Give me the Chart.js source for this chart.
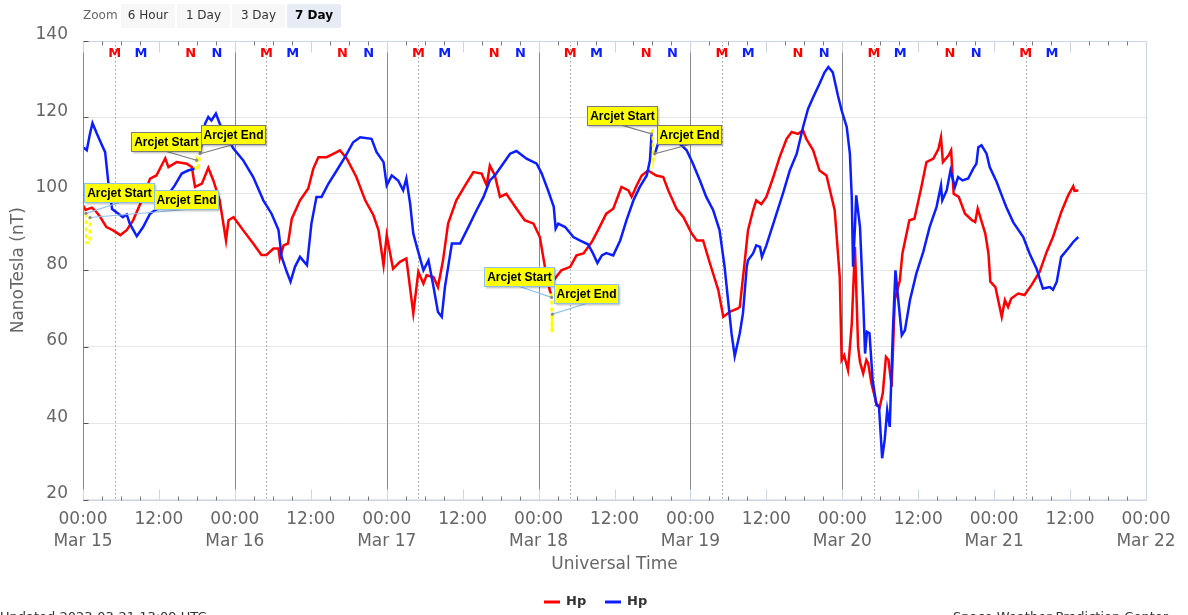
<!DOCTYPE html>
<html>
<head>
<meta charset="utf-8">
<script src="https://cdn.jsdelivr.net/npm/chart.js@4.4.1/dist/chart.umd.min.js"></script>
<style>
  html, body { margin: 0; padding: 0; background: #fff; }
  #wrap { position: relative; width: 1188px; height: 615px; overflow: hidden; font-family: "DejaVu Sans", sans-serif; }
  #chart { position: absolute; left: 0; top: 0; }
  .zl { position: absolute; top: 8px; font-size: 12px; color: #666; }
  .zb { position: absolute; top: 4px; height: 24px; line-height: 22px; text-align: center; font-size: 12px; color: #333; background: #f7f7f7; border-radius: 2px; }
  .zb.on { background: #e6ebf5; color: #000; font-weight: bold; }
  .foot { position: absolute; top: 609px; font-size: 13px; color: #333; white-space: nowrap; }
</style>
</head>
<body>
<div id="wrap">
  <canvas id="chart" width="1188" height="615"></canvas>
  <span class="zl" style="left:83px">Zoom</span>
  <span class="zb" style="left:121px;width:54px">6 Hour</span>
  <span class="zb" style="left:177px;width:53px">1 Day</span>
  <span class="zb" style="left:232px;width:53px">3 Day</span>
  <span class="zb on" style="left:287px;width:54px">7 Day</span>
  <span class="foot" style="left:0px">Updated 2023-03-21 13:09 UTC</span>
  <span class="foot" style="left:953px">Space Weather Prediction Center</span>
</div>
<script>
// Hours since 2023-03-15 00:00 UT, Hp in nT.
const hpG16 = [
  [0.0,97.0],[0.4,95.8],[1.4,96.4],[2.0,95.5],[2.7,94.0],[3.7,91.3],[4.7,90.5],[5.9,89.2],[6.9,90.5],[7.9,93.0],
  [9.3,98.3],[10.6,104.0],[11.6,104.8],[13.0,109.3],[13.5,107.0],[14.8,108.3],[16.4,107.9],[17.2,107.0],[17.7,101.8],[18.8,102.7],
  [19.8,106.8],[20.6,103.5],[21.6,98.3],[22.6,87.8],[23.0,93.1],[23.8,93.9],[25.3,90.5],[26.9,87.0],[28.2,84.0],[29.0,84.0],
  [30.1,85.7],[30.9,85.7],[31.1,83.1],[31.7,86.5],[32.4,87.0],[33.0,93.5],[34.3,98.3],[35.6,101.4],[36.4,106.6],[37.2,109.6],
  [38.5,109.6],[40.1,110.9],[40.6,111.4],[41.7,109.2],[43.2,104.4],[44.6,98.3],[45.9,94.4],[46.7,90.5],[47.5,81.3],[48.0,89.2],
  [49.0,80.4],[50.1,82.2],[51.1,83.1],[52.2,68.7],[53.0,79.6],[53.8,76.5],[54.3,78.7],[55.4,78.2],[56.1,75.6],[56.9,82.6],
  [57.7,92.2],[59.0,98.3],[60.4,102.2],[61.7,105.7],[63.0,105.3],[63.8,102.2],[64.3,107.4],[65.1,104.8],[65.9,99.2],[66.9,100.0],
  [68.3,96.6],[69.8,93.1],[71.2,92.2],[72.2,88.7],[73.0,80.9],[73.8,74.5],[74.0,73.9],[74.15,null],[74.4,77.4],[75.6,80.0],
  [77.0,80.9],[78.0,83.9],[79.1,84.4],[80.4,87.4],[81.4,90.5],[82.7,94.8],[83.8,96.1],[85.1,101.8],[86.2,100.9],[86.7,99.2],
  [87.5,102.2],[88.3,104.8],[89.3,106.1],[90.6,104.8],[91.7,104.4],[92.5,100.9],[93.8,96.1],[94.9,93.9],[96.2,89.6],[97.0,87.8],
  [98.0,87.8],[99.1,81.7],[100.4,74.8],[101.2,67.8],[102.2,69.1],[103.5,70.0],[103.8,70.4],[104.6,82.6],[105.1,90.5],[105.9,95.7],
  [106.4,98.3],[107.2,97.3],[108.0,99.2],[109.1,104.4],[110.1,109.6],[111.2,114.4],[112.0,116.2],[113.0,115.7],[113.8,116.6],[114.3,114.4],
  [115.4,111.4],[116.4,106.1],[117.5,104.8],[118.8,95.7],[119.6,78.2],[119.9,56.5],[120.3,57.7],[120.9,53.9],[121.5,66.0],[122.0,86.1],
  [122.5,60.0],[122.8,56.0],[123.3,53.0],[123.8,56.5],[124.1,55.6],[124.6,50.4],[125.4,45.1],[125.9,44.1],[126.4,47.8],[126.9,57.3],
  [127.3,56.5],[127.8,49.5],[128.3,72.2],[129.1,77.4],[129.5,84.4],[130.6,93.1],[131.4,93.5],[132.5,101.8],[133.3,108.3],[134.4,109.2],
  [135.2,111.8],[135.6,114.8],[135.9,108.3],[136.8,110.1],[137.2,111.4],[137.6,100.0],[138.4,99.2],[139.4,94.8],[140.5,93.1],[141.0,92.6],
  [141.4,96.1],[142.6,89.6],[143.1,84.4],[143.4,77.0],[144.2,75.6],[145.2,67.8],[145.7,72.2],[146.2,70.4],[146.7,72.6],[147.8,73.9],
  [148.8,73.5],[149.9,76.1],[151.2,79.6],[152.3,84.8],[153.3,88.7],[154.6,95.2],[155.7,99.6],[156.5,102.0],[156.7,100.8],[157.3,100.9]
];

const hpG18 = [
  [0.0,112.2],[0.6,111.4],[1.1,115.7],[1.5,118.5],[2.2,115.7],[3.0,112.7],[3.5,110.9],[4.0,103.0],[4.6,96.0],[5.6,94.8],
  [6.3,93.9],[6.9,94.6],[7.4,92.2],[8.5,88.9],[9.5,91.3],[10.6,94.8],[12.2,96.6],[13.2,99.2],[14.5,102.2],[15.6,105.3],
  [16.6,106.1],[17.7,106.6],[17.8,106.3],[18.2,null],[18.49,110.5],[19.3,118.4],[19.8,120.1],[20.3,119.2],[21.0,121.0],[21.6,118.4],
  [22.7,114.8],[23.8,111.8],[25.3,108.8],[26.9,104.4],[28.5,98.3],[29.8,94.8],[30.9,90.5],[31.4,83.5],[32.2,79.6],[32.8,77.0],
  [33.5,80.9],[34.3,83.5],[35.4,81.3],[36.1,92.2],[36.9,99.2],[37.7,99.2],[38.8,102.7],[40.1,106.1],[41.4,109.6],[42.7,113.5],
  [43.8,114.8],[45.6,114.4],[46.4,110.9],[47.5,108.3],[48.0,102.2],[48.8,104.8],[49.8,103.5],[50.6,100.9],[51.1,104.0],[51.7,97.4],
  [52.2,89.6],[52.7,86.5],[53.8,80.0],[54.6,82.6],[55.4,75.6],[56.1,69.1],[56.7,67.8],[57.2,75.6],[58.3,87.0],[59.6,87.0],
  [60.9,91.3],[62.2,95.7],[63.3,99.2],[64.3,103.5],[65.1,104.8],[66.2,107.4],[67.5,110.5],[68.5,111.2],[70.1,109.2],[71.7,107.9],
  [72.5,105.3],[73.5,100.9],[74.4,96.6],[74.7,90.9],[75.1,92.2],[76.2,91.3],[77.5,88.7],[78.5,87.8],[79.8,86.8],[80.6,84.4],
  [81.3,81.9],[82.0,83.9],[82.7,84.5],[83.8,83.9],[84.9,87.8],[85.9,93.1],[87.0,98.3],[88.0,101.8],[89.1,104.8],[89.6,108.8],
  [89.86,115.7],[90.1,null],[90.38,110.5],[91.2,114.8],[92.2,115.3],[93.5,114.0],[94.6,112.7],[95.4,111.4],[96.4,107.9],[97.5,103.5],
  [98.5,99.2],[99.6,95.7],[100.6,90.5],[101.4,80.9],[102.0,71.3],[102.5,63.4],[103.0,57.5],[103.8,63.5],[104.3,68.7],[104.9,80.9],
  [105.1,82.6],[105.9,84.4],[106.4,86.5],[107.0,86.1],[107.3,83.5],[108.0,86.5],[109.1,92.2],[110.1,97.4],[110.7,100.5],[111.7,106.1],
  [112.8,110.5],[113.8,117.5],[114.6,122.3],[115.4,125.3],[116.4,128.8],[117.2,131.8],[117.8,133.2],[118.5,131.8],[119.3,125.8],[119.9,121.8],
  [120.7,117.5],[121.2,110.5],[121.5,99.0],[121.7,80.9],[122.0,91.3],[122.2,99.6],[122.8,91.3],[123.3,72.2],[123.6,58.2],[123.9,63.9],
  [124.3,63.5],[124.8,51.2],[125.4,44.7],[125.8,44.3],[126.3,30.8],[126.7,35.6],[127.1,43.4],[127.5,39.0],[128.0,64.3],[128.4,80.0],
  [128.7,74.8],[129.4,63.0],[129.9,64.3],[130.7,72.2],[131.7,79.1],[132.8,84.8],[133.8,91.3],[134.9,96.6],[135.6,102.2],[135.8,98.3],
  [136.5,100.9],[137.1,106.1],[137.8,101.8],[138.3,104.4],[139.0,103.5],[139.9,104.0],[140.7,106.6],[141.2,107.9],[141.5,112.2],[142.0,112.7],
  [142.8,110.5],[143.3,107.0],[144.4,103.1],[145.2,99.6],[145.9,96.6],[147.0,92.6],[148.6,88.7],[149.6,84.4],[150.7,80.4],[151.7,75.2],
  [152.8,75.6],[153.3,74.9],[153.9,77.0],[154.6,83.5],[155.7,85.7],[156.5,87.4],[157.3,88.7]
];

// Readings taken while the arcjet thrusters were firing
const arcjetG16a = [[0.47,94.9],[0.52,87.2],[1.05,87.2],[1.11,93.8]];
const arcjetG18a = [[17.8,106.3],[17.96,108.8],[18.3,107.2],[18.49,110.5]];
const arcjetG16b = [[74.0,73.9],[74.05,72.9],[74.1,63.8],[74.2,68.5]];
const arcjetG18b = [[89.86,115.7],[90.0,117.2],[90.15,108.8],[90.38,110.5]];

// Arcjet start / end marks: [hour, nT]
const arcjetStarts = [[0.47,94.9],[17.96,108.8],[74.05,72.9],[89.86,115.7]];
const arcjetEnds   = [[1.11,93.8],[18.49,110.5],[74.2,68.5],[90.38,110.5]];
const arcjetSat    = ['G16','G18','G16','G18'];

// Local midnight (M) and noon (N) of each satellite, hours UT
const g16Midnight = [5.0, 29.0, 53.0, 77.0, 101.0, 125.0, 149.0];
const g18Midnight = [9.15, 33.15, 57.15, 81.15, 105.15, 129.15, 153.15];
const g16Noon = [17.0, 41.0, 65.0, 89.0, 113.0, 137.0];
const g18Noon = [21.15, 45.15, 69.15, 93.15, 117.15, 141.15];

// Day separators drawn across the plot
const dayBoundaries = [24, 48, 72, 96, 120];

const dayLabels = ['Mar 15','Mar 16','Mar 17','Mar 18','Mar 19','Mar 20','Mar 21','Mar 22'];
const yTicks = [20, 40, 60, 80, 100, 120, 140];

const RED = '#ff0000';
const BLUE = '#0a1eff';
const YELLOW = '#ffff00';
const FONT = '"DejaVu Sans", sans-serif';

const toPoints = pairs => pairs.map(([x, y]) => ({ x, y }));

// label box placement relative to its mark (px)
const startBoxOffset = [[-2,-30],[-66,-28],[-68,-30],[-65,-28]];
const endBoxOffset   = [[64,-28],[1,-29],[2,-30],[2,-29]];

const overlay = {
  id: 'overlay',
  beforeDatasetsDraw(chart) {
    const { ctx, chartArea: a, scales: { x } } = chart;
    ctx.save();
    ctx.lineWidth = 1;
    ctx.strokeStyle = '#8a8a8a';
    dayBoundaries.forEach(h => {
      const px = Math.round(x.getPixelForValue(h)) + 0.5;
      ctx.beginPath(); ctx.moveTo(px, a.top); ctx.lineTo(px, a.bottom); ctx.stroke();
    });
    ctx.strokeStyle = '#9a9a9a';
    ctx.setLineDash([1.5, 2.5]);
    g16Midnight.forEach(h => {
      const px = Math.round(x.getPixelForValue(h)) + 0.5;
      ctx.beginPath(); ctx.moveTo(px, a.top); ctx.lineTo(px, a.bottom); ctx.stroke();
    });
    ctx.restore();
  },
  afterDatasetsDraw(chart) {
    const { ctx, chartArea: a, scales: { x, y } } = chart;
    ctx.save();
    const L = Math.round(a.left) + 0.5, R = Math.round(a.right) + 0.5;
    const T = Math.round(a.top) + 0.5, B = Math.round(a.bottom) + 0.5;

    // frame
    ctx.lineWidth = 1;
    ctx.strokeStyle = '#ccd6eb';
    ctx.beginPath();
    ctx.moveTo(L, T); ctx.lineTo(R, T); ctx.lineTo(R, B); ctx.lineTo(L, B);
    ctx.stroke();
    ctx.strokeStyle = '#8a8a8a';
    ctx.beginPath(); ctx.moveTo(L, T); ctx.lineTo(L, B); ctx.stroke();

    // inner tick marks on the time axes
    for (let h = 0; h <= 168; h += 3) {
      const px = Math.round(x.getPixelForValue(h)) + 0.5;
      const major = h % 12 === 0;
      ctx.strokeStyle = major ? '#ccd6eb' : '#777';
      const len = major ? 11 : 4;
      ctx.beginPath();
      ctx.moveTo(px, B); ctx.lineTo(px, B - len);
      ctx.moveTo(px, T); ctx.lineTo(px, T + len);
      ctx.stroke();
    }
    // inner tick marks on the value axis
    ctx.strokeStyle = '#555';
    yTicks.forEach(v => {
      const py = Math.round(y.getPixelForValue(v)) + 0.5;
      ctx.beginPath(); ctx.moveTo(L, py); ctx.lineTo(L + 5, py); ctx.stroke();
    });

    // local midnight / noon markers
    ctx.font = 'bold 13px ' + FONT;
    ctx.textAlign = 'center';
    ctx.textBaseline = 'middle';
    const mark = (list, txt, color) => {
      ctx.fillStyle = color;
      list.forEach(h => ctx.fillText(txt, x.getPixelForValue(h), a.top + 12.5));
    };
    mark(g16Midnight, 'M', RED);
    mark(g18Midnight, 'M', BLUE);
    mark(g16Noon, 'N', RED);
    mark(g18Noon, 'N', BLUE);

    // arcjet annotations
    const drawLabel = (pt, off, w, text, edge) => {
      const px = x.getPixelForValue(pt[0]);
      const py = y.getPixelForValue(pt[1]);
      const bx = Math.round(px + off[0]) + 0.5;
      const by = Math.round(py + off[1]) + 0.5;
      const h = 19;
      ctx.strokeStyle = edge;
      ctx.lineWidth = 1.2;
      ctx.beginPath(); ctx.moveTo(bx + w / 2, by + h); ctx.lineTo(px, py); ctx.stroke();
      ctx.fillStyle = '#888';
      ctx.beginPath(); ctx.arc(px, py, 1.6, 0, Math.PI * 2); ctx.fill();
      ctx.save();
      ctx.shadowColor = 'rgba(0,0,0,0.3)';
      ctx.shadowOffsetX = 1; ctx.shadowOffsetY = 1; ctx.shadowBlur = 2;
      ctx.fillStyle = YELLOW;
      ctx.fillRect(bx, by, w, h);
      ctx.restore();
      ctx.lineWidth = 1;
      ctx.strokeStyle = edge;
      ctx.strokeRect(bx, by, w, h);
      ctx.fillStyle = '#000';
      ctx.font = 'bold 12px "Liberation Sans", Arial, sans-serif';
      ctx.textAlign = 'center';
      ctx.textBaseline = 'middle';
      ctx.fillText(text, bx + w / 2, by + h / 2 + 0.5);
    };
    arcjetStarts.forEach((pt, i) => {
      const edge = arcjetSat[i] === 'G16' ? '#8fc0ea' : '#7a7a7a';
      drawLabel(pt, startBoxOffset[i], 70, 'Arcjet Start', edge);
      drawLabel(arcjetEnds[i], endBoxOffset[i], 64, 'Arcjet End', edge);
    });
    ctx.restore();
  },
  afterDraw(chart) {
    // series key under the axis title
    const { ctx } = chart;
    ctx.save();
    const yMid = 602;
    const items = chart.data.datasets.filter(d => d.inKey);
    const xs = [544, 605];
    items.forEach((d, i) => {
      ctx.strokeStyle = d.borderColor;
      ctx.lineWidth = 3;
      ctx.beginPath(); ctx.moveTo(xs[i], yMid); ctx.lineTo(xs[i] + 16, yMid); ctx.stroke();
      ctx.fillStyle = '#333';
      ctx.font = 'bold 13px ' + FONT;
      ctx.textAlign = 'left';
      ctx.textBaseline = 'middle';
      ctx.fillText(d.label, xs[i] + 22, yMid);
    });
    ctx.restore();
  }
};

const lineStyle = { pointRadius: 0, borderWidth: 2.5, tension: 0, spanGaps: false, fill: false };

new Chart(document.getElementById('chart'), {
  type: 'line',
  data: {
    datasets: [
      { label: 'Hp', data: toPoints(hpG16), borderColor: RED, order: 2, inKey: true, ...lineStyle },
      { label: 'Hp', data: toPoints(hpG18), borderColor: BLUE, order: 1, inKey: true, ...lineStyle },
      { label: 'arcjet', data: toPoints(arcjetG16a), borderColor: YELLOW, borderDash: [4, 3], order: 0, ...lineStyle },
      { label: 'arcjet', data: toPoints(arcjetG18a), borderColor: YELLOW, borderDash: [4, 3], order: 0, ...lineStyle },
      { label: 'arcjet', data: toPoints(arcjetG16b), borderColor: YELLOW, borderDash: [4, 3], order: 0, ...lineStyle },
      { label: 'arcjet', data: toPoints(arcjetG18b), borderColor: YELLOW, borderDash: [4, 3], order: 0, ...lineStyle }
    ]
  },
  options: {
    responsive: false,
    animation: false,
    events: [],
    layout: { padding: { top: 41, left: 0, right: 42, bottom: 40.5 } },
    plugins: { legend: { display: false }, tooltip: { enabled: false } },
    scales: {
      x: {
        type: 'linear',
        min: 0, max: 168,
        grid: { display: false, drawTicks: false },
        border: { display: false },
        ticks: {
          stepSize: 12,
          autoSkip: false,
          maxRotation: 0,
          padding: 9,
          color: '#666',
          font: { family: FONT, size: 17, lineHeight: 1.3 },
          callback: v => (v % 24 === 0 ? ['00:00', dayLabels[v / 24]] : '12:00')
        },
        title: {
          display: true, text: 'Universal Time', color: '#666',
          font: { family: FONT, size: 17, lineHeight: 1.2 },
          padding: { top: 0, bottom: 0 }
        },
        afterFit: s => { s.height = 75; }
      },
      y: {
        min: 20, max: 140,
        grid: { color: '#e6e6e6', drawTicks: false },
        border: { display: false },
        ticks: {
          stepSize: 20,
          padding: 15,
          labelOffset: -6,
          color: '#666',
          font: { family: FONT, size: 17 }
        },
        title: {
          display: true, text: 'NanoTesla (nT)', color: '#666',
          font: { family: FONT, size: 17, lineHeight: 1.2 },
          padding: { top: 8, bottom: 8 }
        },
        afterFit: s => { s.width = 83; }
      }
    }
  },
  plugins: [overlay]
});
</script>
</body>
</html>
